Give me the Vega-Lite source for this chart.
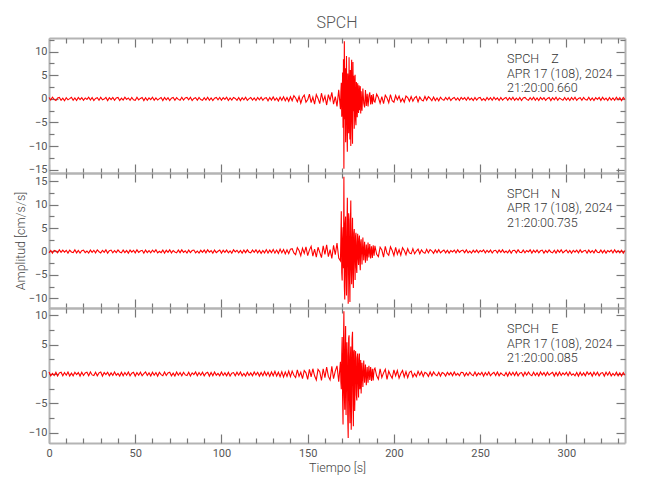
{
"$schema": "https://vega.github.io/schema/vega-lite/v6.json",
"padding": {"left": 14, "top": 15, "right": 10, "bottom": 10},
"spacing": 0,
"bounds": "flush",
"datasets": {
"Z": [{"t":0,"a":0.3},{"t":1,"a":-0.25},{"t":2,"a":0.35},{"t":3,"a":-0.1},{"t":4,"a":-0.35},{"t":5,"a":0.2},{"t":6,"a":0.3},{"t":7,"a":-0.3},{"t":8,"a":0.15},{"t":9,"a":-0.4},
{"t":10,"a":0.25},{"t":11,"a":-0.2},{"t":12,"a":0.05},{"t":13,"a":0.35},{"t":14,"a":-0.3},{"t":15,"a":0.2},{"t":16,"a":-0.35},{"t":17,"a":0.3},{"t":18,"a":-0.15},{"t":19,"a":0.25},
{"t":20,"a":-0.3},{"t":21,"a":0.2},{"t":22,"a":-0.1},{"t":23,"a":0.35},{"t":24,"a":-0.25},{"t":25,"a":0.3},{"t":26,"a":-0.35},{"t":27,"a":0.1},{"t":28,"a":0.25},{"t":29,"a":-0.3},
{"t":30,"a":0.35},{"t":31,"a":-0.2},{"t":32,"a":-0.05},{"t":33,"a":0.3},{"t":34,"a":-0.35},{"t":35,"a":0.25},{"t":36,"a":-0.15},{"t":37,"a":0.3},{"t":38,"a":-0.3},{"t":39,"a":0.2},
{"t":40,"a":0.3},{"t":41,"a":-0.35},{"t":42,"a":0.15},{"t":43,"a":-0.25},{"t":44,"a":0.35},{"t":45,"a":-0.1},{"t":46,"a":0.2},{"t":47,"a":-0.3},{"t":48,"a":0.3},{"t":49,"a":-0.2},
{"t":50,"a":-0.3},{"t":51,"a":0.35},{"t":52,"a":-0.2},{"t":53,"a":0.1},{"t":54,"a":0.3},{"t":55,"a":-0.35},{"t":56,"a":0.25},{"t":57,"a":-0.3},{"t":58,"a":0.2},{"t":59,"a":-0.15},
{"t":60,"a":0.35},{"t":61,"a":-0.3},{"t":62,"a":0.2},{"t":63,"a":-0.25},{"t":64,"a":0.05},{"t":65,"a":0.3},{"t":66,"a":-0.35},{"t":67,"a":0.3},{"t":68,"a":-0.2},{"t":69,"a":0.25},
{"t":70,"a":-0.35},{"t":71,"a":0.15},{"t":72,"a":0.3},{"t":73,"a":-0.3},{"t":74,"a":0.25},{"t":75,"a":-0.1},{"t":76,"a":-0.3},{"t":77,"a":0.35},{"t":78,"a":-0.25},{"t":79,"a":0.2},
{"t":80,"a":0.3},{"t":81,"a":-0.2},{"t":82,"a":0.35},{"t":83,"a":-0.35},{"t":84,"a":0.1},{"t":85,"a":0.25},{"t":86,"a":-0.3},{"t":87,"a":0.3},{"t":88,"a":-0.15},{"t":89,"a":-0.3},
{"t":90,"a":0.25},{"t":91,"a":-0.25},{"t":92,"a":0.35},{"t":93,"a":-0.3},{"t":94,"a":0.2},{"t":95,"a":-0.35},{"t":96,"a":0.15},{"t":97,"a":0.3},{"t":98,"a":-0.2},{"t":99,"a":0.3},
{"t":100,"a":-0.3},{"t":101,"a":0.25},{"t":102,"a":-0.1},{"t":103,"a":0.35},{"t":104,"a":-0.35},{"t":105,"a":0.2},{"t":106,"a":-0.25},{"t":107,"a":0.3},{"t":108,"a":0.1},{"t":109,"a":-0.3},
{"t":110,"a":0.3},{"t":111,"a":-0.35},{"t":112,"a":0.25},{"t":113,"a":-0.2},{"t":114,"a":0.35},{"t":115,"a":-0.3},{"t":116,"a":0.05},{"t":117,"a":0.3},{"t":118,"a":-0.25},{"t":119,"a":0.2},
{"t":120,"a":-0.35},{"t":121,"a":0.3},{"t":122,"a":-0.2},{"t":123,"a":0.35},{"t":124,"a":-0.3},{"t":125,"a":0.15},{"t":126,"a":0.25},{"t":127,"a":-0.4},{"t":128,"a":0.3},{"t":129,"a":-0.25},
{"t":130,"a":0.4},{"t":131,"a":-0.3},{"t":132,"a":0.2},{"t":133,"a":-0.45},{"t":134,"a":0.35},{"t":135,"a":-0.3},{"t":136,"a":0.45},{"t":137,"a":-0.4},{"t":138,"a":0.3},{"t":139,"a":-0.5},
{"t":140,"a":0.45},
{"t":141,"a":-0.4},{"t":142,"a":0.7},{"t":143,"a":0.2},{"t":144,"a":-0.6},{"t":145,"a":0.5},{"t":146,"a":-0.9},{"t":147,"a":0.3},{"t":148,"a":0.8},{"t":149,"a":-0.7},{"t":150,"a":-0.2},{"t":151,"a":1.0},{"t":152,"a":-0.8},{"t":153,"a":0.4},{"t":154,"a":-1.1},{"t":155,"a":0.9},{"t":156,"a":0.1},{"t":157,"a":-1.0},{"t":158,"a":1.2},{"t":159,"a":-0.5},{"t":160,"a":0.6},{"t":161,"a":-1.3},{"t":162,"a":0.9},{"t":163,"a":-0.3},{"t":164,"a":1.4},{"t":165,"a":-1.1},{"t":166,"a":0.5},{"t":167,"a":-1.6},{"t":168,"a":1.9},
{"t":169,"a":-2.2},{"t":169.25,"a":1.5},{"t":169.5,"a":3.4},{"t":169.75,"a":-3.8},{"t":170,"a":-1.2},{"t":170.25,"a":5.6},{"t":170.5,"a":-6.1},{"t":170.75,"a":8.4},{"t":171,"a":-14.8},{"t":171.25,"a":12.2},{"t":171.5,"a":-4.3},{"t":171.75,"a":6.5},{"t":172,"a":-9.2},{"t":172.25,"a":3.1},{"t":172.5,"a":9.1},{"t":172.75,"a":-6.8},{"t":173,"a":-11.2},{"t":173.25,"a":5.4},{"t":173.5,"a":2.0},{"t":173.75,"a":-7.3},{"t":174,"a":8.8},{"t":174.25,"a":-3.5},{"t":174.5,"a":-8.6},{"t":174.75,"a":6.1},{"t":175,"a":-10.0},{"t":175.25,"a":4.2},{"t":175.5,"a":8.3},{"t":175.75,"a":-5.2},{"t":176,"a":-9.5},{"t":176.25,"a":7.8},{"t":176.5,"a":-2.6},{"t":176.75,"a":4.9},{"t":177,"a":-6.3},{"t":177.25,"a":2.2},{"t":177.5,"a":5.1},{"t":177.75,"a":-4.4},{"t":178,"a":-5.6},{"t":178.25,"a":3.6},{"t":178.5,"a":1.1},{"t":178.75,"a":-3.9},{"t":179,"a":3.3},{"t":179.25,"a":-1.5},{"t":179.5,"a":-3.0},{"t":179.75,"a":2.9},{"t":180,"a":-2.4},{"t":180.25,"a":1.4},{"t":180.5,"a":2.7},{"t":180.75,"a":-3.1},
{"t":181,"a":1.6},{"t":181.5,"a":-2.5},{"t":182,"a":2.2},{"t":182.5,"a":-0.9},{"t":183,"a":-1.8},{"t":183.5,"a":1.9},{"t":184,"a":-1.5},{"t":184.5,"a":1.1},{"t":185,"a":-1.6},{"t":185.5,"a":0.6},{"t":186,"a":1.4},{"t":186.5,"a":-1.2},{"t":187,"a":0.8},{"t":187.5,"a":-1.1},{"t":188,"a":1.0},{"t":188.5,"a":-0.5},
{"t":189,"a":-0.7},{"t":190,"a":1.0},{"t":191,"a":0.3},{"t":192,"a":-0.9},{"t":193,"a":0.5},{"t":194,"a":-1.0},{"t":195,"a":0.8},{"t":196,"a":0.2},{"t":197,"a":-0.8},{"t":198,"a":0.9},{"t":199,"a":-0.4},{"t":200,"a":-0.7},{"t":201,"a":0.7},{"t":202,"a":-0.2},{"t":203,"a":0.6},{"t":204,"a":-0.6},{"t":205,"a":0.1},{"t":206,"a":-0.7},{"t":207,"a":0.6},{"t":208,"a":0.3},{"t":209,"a":-0.5},{"t":210,"a":0.5},{"t":211,"a":-0.5},{"t":212,"a":0.2},{"t":213,"a":0.5},{"t":214,"a":-0.6},{"t":215,"a":0.4},{"t":216,"a":-0.2},{"t":217,"a":-0.45},{"t":218,"a":0.5},{"t":219,"a":-0.3},{"t":220,"a":0.45},{"t":221,"a":0.1},{"t":222,"a":-0.4},{"t":223,"a":0.4},{"t":224,"a":-0.35},{"t":225,"a":0.2},{"t":226,"a":-0.4},{"t":227,"a":0.35},{"t":228,"a":-0.1},{"t":229,"a":-0.3},
{"t":230,"a":0.3},{"t":231,"a":-0.2},{"t":232,"a":0.35},{"t":233,"a":-0.35},{"t":234,"a":0.1},{"t":235,"a":0.3},{"t":236,"a":-0.25},{"t":237,"a":0.2},{"t":238,"a":-0.35},{"t":239,"a":0.3},
{"t":240,"a":-0.1},{"t":241,"a":0.25},{"t":242,"a":-0.3},{"t":243,"a":0.35},{"t":244,"a":-0.2},{"t":245,"a":0.15},{"t":246,"a":-0.35},{"t":247,"a":0.3},{"t":248,"a":-0.25},{"t":249,"a":0.2},
{"t":250,"a":0.3},{"t":251,"a":-0.3},{"t":252,"a":0.05},{"t":253,"a":-0.35},{"t":254,"a":0.3},{"t":255,"a":-0.2},{"t":256,"a":0.25},{"t":257,"a":-0.3},{"t":258,"a":0.35},{"t":259,"a":-0.15},
{"t":260,"a":0.2},{"t":261,"a":-0.35},{"t":262,"a":0.3},{"t":263,"a":-0.25},{"t":264,"a":0.1},{"t":265,"a":0.3},{"t":266,"a":-0.3},{"t":267,"a":0.25},{"t":268,"a":-0.2},{"t":269,"a":0.35},
{"t":270,"a":-0.3},{"t":271,"a":0.15},{"t":272,"a":-0.25},{"t":273,"a":0.3},{"t":274,"a":-0.35},{"t":275,"a":0.2},{"t":276,"a":0.3},{"t":277,"a":-0.1},{"t":278,"a":-0.3},{"t":279,"a":0.25},
{"t":280,"a":-0.2},{"t":281,"a":0.35},{"t":282,"a":-0.3},{"t":283,"a":0.2},{"t":284,"a":-0.35},{"t":285,"a":0.3},{"t":286,"a":-0.15},{"t":287,"a":0.25},{"t":288,"a":-0.3},{"t":289,"a":0.1},
{"t":290,"a":0.3},{"t":291,"a":-0.35},{"t":292,"a":0.25},{"t":293,"a":-0.2},{"t":294,"a":0.35},{"t":295,"a":-0.3},{"t":296,"a":0.2},{"t":297,"a":-0.05},{"t":298,"a":-0.3},{"t":299,"a":0.3},
{"t":300,"a":-0.25},{"t":301,"a":0.2},{"t":302,"a":-0.35},{"t":303,"a":0.3},{"t":304,"a":-0.2},{"t":305,"a":0.35},{"t":306,"a":-0.3},{"t":307,"a":0.1},{"t":308,"a":0.25},{"t":309,"a":-0.3},
{"t":310,"a":0.3},{"t":311,"a":-0.15},{"t":312,"a":-0.25},{"t":313,"a":0.35},{"t":314,"a":-0.3},{"t":315,"a":0.2},{"t":316,"a":-0.35},{"t":317,"a":0.25},{"t":318,"a":-0.1},{"t":319,"a":0.3},
{"t":320,"a":-0.3},{"t":321,"a":0.35},{"t":322,"a":-0.2},{"t":323,"a":0.15},{"t":324,"a":-0.35},{"t":325,"a":0.3},{"t":326,"a":-0.25},{"t":327,"a":0.2},{"t":328,"a":-0.3},{"t":329,"a":0.35},
{"t":330,"a":-0.2},{"t":331,"a":0.25},{"t":332,"a":-0.35},{"t":333,"a":0.3},{"t":334,"a":-0.15}],
"N": [{"t":0,"a":-0.3},{"t":1,"a":0.2},{"t":2,"a":-0.35},{"t":3,"a":0.25},{"t":4,"a":0.1},{"t":5,"a":-0.3},{"t":6,"a":0.35},{"t":7,"a":-0.2},{"t":8,"a":0.3},{"t":9,"a":-0.15},
{"t":10,"a":0.25},{"t":11,"a":-0.35},{"t":12,"a":0.3},{"t":13,"a":-0.1},{"t":14,"a":-0.25},{"t":15,"a":0.35},{"t":16,"a":-0.3},{"t":17,"a":0.2},{"t":18,"a":-0.35},{"t":19,"a":0.15},
{"t":20,"a":0.3},{"t":21,"a":-0.25},{"t":22,"a":0.1},{"t":23,"a":-0.35},{"t":24,"a":0.3},{"t":25,"a":-0.2},{"t":26,"a":0.25},{"t":27,"a":-0.3},{"t":28,"a":0.35},{"t":29,"a":-0.05},
{"t":30,"a":-0.3},{"t":31,"a":0.25},{"t":32,"a":-0.2},{"t":33,"a":0.35},{"t":34,"a":-0.35},{"t":35,"a":0.15},{"t":36,"a":0.3},{"t":37,"a":-0.3},{"t":38,"a":0.2},{"t":39,"a":-0.25},
{"t":40,"a":0.35},{"t":41,"a":-0.1},{"t":42,"a":-0.3},{"t":43,"a":0.3},{"t":44,"a":-0.25},{"t":45,"a":0.2},{"t":46,"a":-0.35},{"t":47,"a":0.3},{"t":48,"a":-0.15},{"t":49,"a":0.25},
{"t":50,"a":-0.3},{"t":51,"a":0.35},{"t":52,"a":-0.2},{"t":53,"a":0.1},{"t":54,"a":0.25},{"t":55,"a":-0.35},{"t":56,"a":0.3},{"t":57,"a":-0.25},{"t":58,"a":0.2},{"t":59,"a":-0.3},
{"t":60,"a":0.3},{"t":61,"a":-0.15},{"t":62,"a":0.35},{"t":63,"a":-0.3},{"t":64,"a":0.05},{"t":65,"a":-0.25},{"t":66,"a":0.3},{"t":67,"a":-0.35},{"t":68,"a":0.25},{"t":69,"a":-0.2},
{"t":70,"a":0.35},{"t":71,"a":-0.3},{"t":72,"a":0.2},{"t":73,"a":-0.1},{"t":74,"a":-0.3},{"t":75,"a":0.3},{"t":76,"a":-0.25},{"t":77,"a":0.35},{"t":78,"a":-0.2},{"t":79,"a":0.15},
{"t":80,"a":-0.35},{"t":81,"a":0.3},{"t":82,"a":-0.25},{"t":83,"a":0.2},{"t":84,"a":0.3},{"t":85,"a":-0.3},{"t":86,"a":0.1},{"t":87,"a":-0.35},{"t":88,"a":0.25},{"t":89,"a":-0.2},
{"t":90,"a":0.3},{"t":91,"a":-0.3},{"t":92,"a":0.35},{"t":93,"a":-0.15},{"t":94,"a":0.2},{"t":95,"a":-0.35},{"t":96,"a":0.3},{"t":97,"a":-0.25},{"t":98,"a":0.05},{"t":99,"a":0.3},
{"t":100,"a":-0.35},{"t":101,"a":0.25},{"t":102,"a":-0.2},{"t":103,"a":0.3},{"t":104,"a":-0.3},{"t":105,"a":0.15},{"t":106,"a":-0.35},{"t":107,"a":0.35},{"t":108,"a":-0.1},{"t":109,"a":0.25},
{"t":110,"a":-0.3},{"t":111,"a":0.2},{"t":112,"a":-0.35},{"t":113,"a":0.3},{"t":114,"a":-0.25},{"t":115,"a":0.35},{"t":116,"a":-0.15},{"t":117,"a":-0.3},{"t":118,"a":0.3},{"t":119,"a":-0.2},
{"t":120,"a":0.35},{"t":121,"a":-0.3},{"t":122,"a":0.25},{"t":123,"a":-0.4},{"t":124,"a":0.2},{"t":125,"a":-0.3},{"t":126,"a":0.4},{"t":127,"a":-0.35},{"t":128,"a":0.3},{"t":129,"a":-0.25},
{"t":130,"a":0.45},{"t":131,"a":-0.35},{"t":132,"a":0.3},{"t":133,"a":-0.4},{"t":134,"a":0.5},{"t":135,"a":-0.3},{"t":136,"a":0.4},{"t":137,"a":-0.5},{"t":138,"a":0.35},{"t":139,"a":-0.45},
{"t":140,"a":0.5},
{"t":141,"a":0.6},{"t":142,"a":-0.3},{"t":143,"a":-0.7},{"t":144,"a":0.8},{"t":145,"a":0.2},{"t":146,"a":-0.9},{"t":147,"a":0.7},{"t":148,"a":-0.4},{"t":149,"a":1.0},{"t":150,"a":-0.9},{"t":151,"a":0.3},{"t":152,"a":1.1},{"t":153,"a":-1.0},{"t":154,"a":0.5},{"t":155,"a":-1.2},{"t":156,"a":0.9},{"t":157,"a":-0.2},{"t":158,"a":-1.3},{"t":159,"a":1.2},{"t":160,"a":-0.6},{"t":161,"a":1.4},{"t":162,"a":-1.1},{"t":163,"a":0.4},{"t":164,"a":-1.5},{"t":165,"a":1.3},{"t":166,"a":-0.7},{"t":167,"a":1.8},{"t":168,"a":-1.4},
{"t":169,"a":-2.0},{"t":169.25,"a":3.1},{"t":169.5,"a":8.6},{"t":169.75,"a":-4.5},{"t":170,"a":-6.2},{"t":170.25,"a":2.8},{"t":170.5,"a":5.2},{"t":170.75,"a":-3.6},{"t":171,"a":16.0},{"t":171.25,"a":-7.4},{"t":171.5,"a":-10.3},{"t":171.75,"a":6.0},{"t":172,"a":7.5},{"t":172.25,"a":-5.1},{"t":172.5,"a":-9.4},{"t":172.75,"a":4.3},{"t":173,"a":11.5},{"t":173.25,"a":-2.8},{"t":173.5,"a":-11.2},{"t":173.75,"a":8.2},{"t":174,"a":6.8},{"t":174.25,"a":-6.0},{"t":174.5,"a":-10.8},{"t":174.75,"a":5.5},{"t":175,"a":10.9},{"t":175.25,"a":-3.9},{"t":175.5,"a":-7.0},{"t":175.75,"a":2.5},{"t":176,"a":7.2},{"t":176.25,"a":-4.8},{"t":176.5,"a":-7.8},{"t":176.75,"a":3.9},{"t":177,"a":4.8},{"t":177.25,"a":-2.1},{"t":177.5,"a":-6.1},{"t":177.75,"a":3.3},{"t":178,"a":4.0},{"t":178.25,"a":-3.4},{"t":178.5,"a":-4.6},{"t":178.75,"a":1.8},{"t":179,"a":3.8},{"t":179.25,"a":-1.6},{"t":179.5,"a":-2.9},{"t":179.75,"a":2.7},{"t":180,"a":3.4},{"t":180.25,"a":-2.3},{"t":180.5,"a":-4.0},{"t":180.75,"a":1.9},
{"t":181,"a":2.6},{"t":181.5,"a":-2.8},{"t":182,"a":3.0},{"t":182.5,"a":-1.9},{"t":183,"a":2.1},{"t":183.5,"a":-2.4},{"t":184,"a":1.5},{"t":184.5,"a":-2.0},{"t":185,"a":1.9},{"t":185.5,"a":-1.3},{"t":186,"a":1.6},{"t":186.5,"a":-1.5},{"t":187,"a":1.1},{"t":187.5,"a":-1.4},{"t":188,"a":1.3},{"t":188.5,"a":-0.9},
{"t":189,"a":1.2},{"t":190,"a":-0.6},{"t":191,"a":-1.1},{"t":192,"a":0.9},{"t":193,"a":0.3},{"t":194,"a":-1.2},{"t":195,"a":1.1},{"t":196,"a":-0.4},{"t":197,"a":-0.8},{"t":198,"a":1.0},{"t":199,"a":0.2},{"t":200,"a":-0.9},{"t":201,"a":0.9},{"t":202,"a":-0.6},{"t":203,"a":0.4},{"t":204,"a":-0.8},{"t":205,"a":0.8},{"t":206,"a":0.2},{"t":207,"a":-0.7},{"t":208,"a":0.6},{"t":209,"a":-0.3},{"t":210,"a":-0.5},{"t":211,"a":0.6},{"t":212,"a":-0.5},{"t":213,"a":0.1},{"t":214,"a":0.5},{"t":215,"a":-0.5},{"t":216,"a":0.35},{"t":217,"a":-0.2},{"t":218,"a":-0.4},{"t":219,"a":0.45},{"t":220,"a":-0.3},{"t":221,"a":0.4},{"t":222,"a":0.1},{"t":223,"a":-0.4},{"t":224,"a":0.35},{"t":225,"a":-0.25},{"t":226,"a":0.4},{"t":227,"a":-0.3},{"t":228,"a":0.05},{"t":229,"a":0.3},
{"t":230,"a":-0.3},{"t":231,"a":0.25},{"t":232,"a":-0.35},{"t":233,"a":0.2},{"t":234,"a":-0.1},{"t":235,"a":0.3},{"t":236,"a":-0.3},{"t":237,"a":0.35},{"t":238,"a":-0.2},{"t":239,"a":0.15},
{"t":240,"a":0.3},{"t":241,"a":-0.25},{"t":242,"a":0.35},{"t":243,"a":-0.3},{"t":244,"a":0.1},{"t":245,"a":-0.35},{"t":246,"a":0.25},{"t":247,"a":-0.2},{"t":248,"a":0.3},{"t":249,"a":-0.3},
{"t":250,"a":0.2},{"t":251,"a":-0.05},{"t":252,"a":0.35},{"t":253,"a":-0.3},{"t":254,"a":0.25},{"t":255,"a":-0.2},{"t":256,"a":0.3},{"t":257,"a":-0.35},{"t":258,"a":0.15},{"t":259,"a":0.25},
{"t":260,"a":-0.3},{"t":261,"a":0.3},{"t":262,"a":-0.2},{"t":263,"a":0.35},{"t":264,"a":-0.25},{"t":265,"a":0.1},{"t":266,"a":-0.3},{"t":267,"a":0.3},{"t":268,"a":-0.35},{"t":269,"a":0.2},
{"t":270,"a":0.25},{"t":271,"a":-0.3},{"t":272,"a":0.35},{"t":273,"a":-0.15},{"t":274,"a":-0.25},{"t":275,"a":0.3},{"t":276,"a":-0.3},{"t":277,"a":0.2},{"t":278,"a":-0.1},{"t":279,"a":0.35},
{"t":280,"a":-0.35},{"t":281,"a":0.25},{"t":282,"a":-0.2},{"t":283,"a":0.3},{"t":284,"a":-0.3},{"t":285,"a":0.15},{"t":286,"a":0.3},{"t":287,"a":-0.35},{"t":288,"a":0.2},{"t":289,"a":-0.25},
{"t":290,"a":0.35},{"t":291,"a":-0.1},{"t":292,"a":-0.3},{"t":293,"a":0.25},{"t":294,"a":-0.35},{"t":295,"a":0.3},{"t":296,"a":-0.2},{"t":297,"a":0.35},{"t":298,"a":-0.3},{"t":299,"a":0.05},
{"t":300,"a":0.3},{"t":301,"a":-0.3},{"t":302,"a":0.2},{"t":303,"a":-0.35},{"t":304,"a":0.25},{"t":305,"a":-0.15},{"t":306,"a":0.3},{"t":307,"a":-0.3},{"t":308,"a":0.35},{"t":309,"a":-0.2},
{"t":310,"a":0.1},{"t":311,"a":0.25},{"t":312,"a":-0.35},{"t":313,"a":0.3},{"t":314,"a":-0.25},{"t":315,"a":0.2},{"t":316,"a":-0.3},{"t":317,"a":0.35},{"t":318,"a":-0.15},{"t":319,"a":-0.25},
{"t":320,"a":0.3},{"t":321,"a":-0.3},{"t":322,"a":0.25},{"t":323,"a":-0.35},{"t":324,"a":0.2},{"t":325,"a":-0.1},{"t":326,"a":0.3},{"t":327,"a":-0.3},{"t":328,"a":0.35},{"t":329,"a":-0.25},
{"t":330,"a":0.2},{"t":331,"a":-0.3},{"t":332,"a":0.25},{"t":333,"a":-0.35},{"t":334,"a":0.2}],
"E": [{"t":0,"a":0.35},{"t":1,"a":-0.3},{"t":2,"a":0.1},{"t":3,"a":-0.25},{"t":4,"a":0.3},{"t":5,"a":-0.35},{"t":6,"a":0.2},{"t":7,"a":0.3},{"t":8,"a":-0.3},{"t":9,"a":0.25},
{"t":10,"a":-0.2},{"t":11,"a":0.35},{"t":12,"a":-0.35},{"t":13,"a":0.15},{"t":14,"a":-0.3},{"t":15,"a":0.3},{"t":16,"a":-0.1},{"t":17,"a":0.25},{"t":18,"a":-0.35},{"t":19,"a":0.3},
{"t":20,"a":-0.25},{"t":21,"a":0.2},{"t":22,"a":0.3},{"t":23,"a":-0.3},{"t":24,"a":0.35},{"t":25,"a":-0.15},{"t":26,"a":-0.25},{"t":27,"a":0.3},{"t":28,"a":-0.3},{"t":29,"a":0.2},
{"t":30,"a":0.35},{"t":31,"a":-0.35},{"t":32,"a":0.25},{"t":33,"a":-0.1},{"t":34,"a":0.3},{"t":35,"a":-0.3},{"t":36,"a":0.2},{"t":37,"a":-0.25},{"t":38,"a":0.35},{"t":39,"a":-0.2},
{"t":40,"a":0.1},{"t":41,"a":-0.35},{"t":42,"a":0.3},{"t":43,"a":-0.3},{"t":44,"a":0.25},{"t":45,"a":-0.2},{"t":46,"a":0.35},{"t":47,"a":-0.3},{"t":48,"a":0.15},{"t":49,"a":0.3},
{"t":50,"a":-0.35},{"t":51,"a":0.25},{"t":52,"a":-0.2},{"t":53,"a":0.3},{"t":54,"a":-0.3},{"t":55,"a":0.05},{"t":56,"a":0.35},{"t":57,"a":-0.25},{"t":58,"a":0.2},{"t":59,"a":-0.35},
{"t":60,"a":0.3},{"t":61,"a":-0.2},{"t":62,"a":0.25},{"t":63,"a":-0.35},{"t":64,"a":0.3},{"t":65,"a":-0.1},{"t":66,"a":-0.3},{"t":67,"a":0.35},{"t":68,"a":-0.25},{"t":69,"a":0.2},
{"t":70,"a":0.3},{"t":71,"a":-0.3},{"t":72,"a":0.15},{"t":73,"a":-0.35},{"t":74,"a":0.35},{"t":75,"a":-0.2},{"t":76,"a":0.25},{"t":77,"a":-0.3},{"t":78,"a":0.3},{"t":79,"a":-0.15},
{"t":80,"a":-0.25},{"t":81,"a":0.3},{"t":82,"a":-0.35},{"t":83,"a":0.2},{"t":84,"a":-0.1},{"t":85,"a":0.35},{"t":86,"a":-0.3},{"t":87,"a":0.25},{"t":88,"a":-0.2},{"t":89,"a":0.3},
{"t":90,"a":-0.3},{"t":91,"a":0.15},{"t":92,"a":0.3},{"t":93,"a":-0.35},{"t":94,"a":0.25},{"t":95,"a":-0.3},{"t":96,"a":0.35},{"t":97,"a":-0.2},{"t":98,"a":0.1},{"t":99,"a":-0.3},
{"t":100,"a":0.35},{"t":101,"a":-0.25},{"t":102,"a":0.2},{"t":103,"a":-0.3},{"t":104,"a":0.3},{"t":105,"a":-0.35},{"t":106,"a":0.15},{"t":107,"a":0.25},{"t":108,"a":-0.3},{"t":109,"a":0.3},
{"t":110,"a":-0.2},{"t":111,"a":0.35},{"t":112,"a":-0.3},{"t":113,"a":0.1},{"t":114,"a":-0.35},{"t":115,"a":0.3},{"t":116,"a":-0.25},{"t":117,"a":0.2},{"t":118,"a":-0.3},{"t":119,"a":0.35},
{"t":120,"a":-0.15},{"t":121,"a":0.3},{"t":122,"a":-0.35},{"t":123,"a":0.25},{"t":124,"a":-0.3},{"t":125,"a":0.4},{"t":126,"a":-0.25},{"t":127,"a":0.3},{"t":128,"a":-0.4},{"t":129,"a":0.35},
{"t":130,"a":-0.3},{"t":131,"a":0.45},{"t":132,"a":-0.35},{"t":133,"a":0.3},{"t":134,"a":-0.45},{"t":135,"a":0.4},{"t":136,"a":-0.5},{"t":137,"a":0.35},{"t":138,"a":-0.4},{"t":139,"a":0.5},
{"t":140,"a":-0.45},
{"t":141,"a":0.5},{"t":142,"a":-0.2},{"t":143,"a":-0.6},{"t":144,"a":0.7},{"t":145,"a":-0.4},{"t":146,"a":0.3},{"t":147,"a":-0.8},{"t":148,"a":0.6},{"t":149,"a":0.2},{"t":150,"a":-0.9},{"t":151,"a":0.8},{"t":152,"a":-0.5},{"t":153,"a":0.9},{"t":154,"a":-0.3},{"t":155,"a":-1.0},{"t":156,"a":0.8},{"t":157,"a":0.4},{"t":158,"a":-1.1},{"t":159,"a":0.9},{"t":160,"a":-0.6},{"t":161,"a":1.2},{"t":162,"a":-0.4},{"t":163,"a":-1.0},{"t":164,"a":1.3},{"t":165,"a":-0.8},{"t":166,"a":0.5},{"t":167,"a":1.4},{"t":168,"a":-1.3},
{"t":169,"a":2.1},{"t":169.25,"a":-1.4},{"t":169.5,"a":-2.6},{"t":169.75,"a":3.2},{"t":170,"a":6.3},{"t":170.25,"a":-4.1},{"t":170.5,"a":-8.6},{"t":170.75,"a":5.2},{"t":171,"a":10.7},{"t":171.25,"a":-3.3},{"t":171.5,"a":-6.1},{"t":171.75,"a":4.0},{"t":172,"a":8.2},{"t":172.25,"a":-7.0},{"t":172.5,"a":-2.4},{"t":172.75,"a":5.4},{"t":173,"a":3.1},{"t":173.25,"a":-7.8},{"t":173.5,"a":-10.9},{"t":173.75,"a":6.1},{"t":174,"a":6.6},{"t":174.25,"a":-4.6},{"t":174.5,"a":-8.4},{"t":174.75,"a":2.9},{"t":175,"a":4.7},{"t":175.25,"a":-9.5},{"t":175.5,"a":-5.3},{"t":175.75,"a":6.0},{"t":176,"a":7.2},{"t":176.25,"a":-3.0},{"t":176.5,"a":-8.9},{"t":176.75,"a":3.8},{"t":177,"a":4.1},{"t":177.25,"a":-6.3},{"t":177.5,"a":-2.2},{"t":177.75,"a":3.9},{"t":178,"a":2.6},{"t":178.25,"a":-3.6},{"t":178.5,"a":-4.5},{"t":178.75,"a":2.8},{"t":179,"a":3.5},{"t":179.25,"a":-1.7},{"t":179.5,"a":-4.0},{"t":179.75,"a":2.5},{"t":180,"a":3.5},{"t":180.25,"a":-2.6},{"t":180.5,"a":-1.2},{"t":180.75,"a":2.4},
{"t":181,"a":-3.3},{"t":181.5,"a":1.9},{"t":182,"a":-2.2},{"t":182.5,"a":2.3},{"t":183,"a":-1.5},{"t":183.5,"a":1.6},{"t":184,"a":-1.9},{"t":184.5,"a":1.2},{"t":185,"a":-1.5},{"t":185.5,"a":1.4},{"t":186,"a":-1.0},{"t":186.5,"a":1.2},{"t":187,"a":-1.2},{"t":187.5,"a":0.9},{"t":188,"a":-1.1},{"t":188.5,"a":0.8},
{"t":189,"a":1.0},{"t":190,"a":-0.3},{"t":191,"a":-0.9},{"t":192,"a":0.9},{"t":193,"a":-0.6},{"t":194,"a":0.2},{"t":195,"a":0.8},{"t":196,"a":-0.9},{"t":197,"a":0.5},{"t":198,"a":-0.2},{"t":199,"a":-0.7},{"t":200,"a":0.7},{"t":201,"a":-0.3},{"t":202,"a":0.6},{"t":203,"a":-0.7},{"t":204,"a":0.1},{"t":205,"a":0.6},{"t":206,"a":-0.5},{"t":207,"a":0.4},{"t":208,"a":-0.6},{"t":209,"a":0.3},{"t":210,"a":0.5},{"t":211,"a":-0.5},{"t":212,"a":0.1},{"t":213,"a":-0.45},{"t":214,"a":0.45},{"t":215,"a":-0.2},{"t":216,"a":0.4},{"t":217,"a":-0.4},{"t":218,"a":0.3},{"t":219,"a":0.1},{"t":220,"a":-0.4},{"t":221,"a":0.35},{"t":222,"a":-0.3},{"t":223,"a":0.35},{"t":224,"a":-0.1},{"t":225,"a":-0.3},{"t":226,"a":0.3},{"t":227,"a":-0.35},{"t":228,"a":0.25},{"t":229,"a":0.1},
{"t":230,"a":-0.35},{"t":231,"a":0.3},{"t":232,"a":-0.15},{"t":233,"a":0.25},{"t":234,"a":-0.3},{"t":235,"a":0.35},{"t":236,"a":-0.2},{"t":237,"a":0.1},{"t":238,"a":-0.3},{"t":239,"a":0.3},
{"t":240,"a":0.25},{"t":241,"a":-0.35},{"t":242,"a":0.2},{"t":243,"a":-0.25},{"t":244,"a":0.3},{"t":245,"a":-0.1},{"t":246,"a":-0.3},{"t":247,"a":0.35},{"t":248,"a":-0.3},{"t":249,"a":0.2},
{"t":250,"a":-0.15},{"t":251,"a":0.3},{"t":252,"a":-0.35},{"t":253,"a":0.25},{"t":254,"a":-0.2},{"t":255,"a":0.35},{"t":256,"a":-0.3},{"t":257,"a":0.05},{"t":258,"a":0.3},{"t":259,"a":-0.25},
{"t":260,"a":0.35},{"t":261,"a":-0.3},{"t":262,"a":0.2},{"t":263,"a":-0.1},{"t":264,"a":-0.3},{"t":265,"a":0.25},{"t":266,"a":-0.35},{"t":267,"a":0.3},{"t":268,"a":-0.2},{"t":269,"a":0.3},
{"t":270,"a":-0.25},{"t":271,"a":0.35},{"t":272,"a":-0.3},{"t":273,"a":0.15},{"t":274,"a":0.25},{"t":275,"a":-0.35},{"t":276,"a":0.3},{"t":277,"a":-0.2},{"t":278,"a":0.35},{"t":279,"a":-0.1},
{"t":280,"a":-0.3},{"t":281,"a":0.3},{"t":282,"a":-0.25},{"t":283,"a":0.2},{"t":284,"a":-0.35},{"t":285,"a":0.35},{"t":286,"a":-0.15},{"t":287,"a":0.25},{"t":288,"a":-0.3},{"t":289,"a":0.3},
{"t":290,"a":-0.2},{"t":291,"a":0.1},{"t":292,"a":0.3},{"t":293,"a":-0.35},{"t":294,"a":0.25},{"t":295,"a":-0.3},{"t":296,"a":0.35},{"t":297,"a":-0.25},{"t":298,"a":0.2},{"t":299,"a":-0.15},
{"t":300,"a":0.3},{"t":301,"a":-0.3},{"t":302,"a":0.35},{"t":303,"a":-0.2},{"t":304,"a":0.05},{"t":305,"a":-0.3},{"t":306,"a":0.25},{"t":307,"a":-0.35},{"t":308,"a":0.3},{"t":309,"a":-0.25},
{"t":310,"a":0.2},{"t":311,"a":-0.3},{"t":312,"a":0.35},{"t":313,"a":-0.1},{"t":314,"a":0.25},{"t":315,"a":-0.35},{"t":316,"a":0.3},{"t":317,"a":-0.2},{"t":318,"a":0.3},{"t":319,"a":-0.3},
{"t":320,"a":0.15},{"t":321,"a":0.25},{"t":322,"a":-0.35},{"t":323,"a":0.3},{"t":324,"a":-0.2},{"t":325,"a":0.35},{"t":326,"a":-0.3},{"t":327,"a":0.1},{"t":328,"a":-0.25},{"t":329,"a":0.3},
{"t":330,"a":-0.3},{"t":331,"a":0.2},{"t":332,"a":-0.35},{"t":333,"a":0.25},{"t":334,"a":-0.2}]
},
"vconcat": [
{
"width": 576, "height": 135,
"data": {"name": "Z"},
"title": {"text": "SPCH", "fontSize": 16, "font": "Roboto", "fontWeight": 300, "color": "#555555", "frame": "group", "anchor": "middle", "offset": 6},
"layer": [
{"mark": {"type": "line", "color": "#ff0000", "strokeWidth": 1.1},
 "encoding": {
  "x": {"field": "t", "type": "quantitative", "scale": {"domain": [0, 334], "nice": false, "zero": false}, "axis": {"orient": "bottom", "values": [0,50,100,150,200,250,300], "ticks": false, "labels": false, "title": null}},
  "y": {"field": "a", "type": "quantitative", "scale": {"domain": [-15.7, 12.9], "nice": false, "zero": false}, "axis": {"orient": "left", "values": [-15,-10,-5,0,5,10], "ticks": false, "labelPadding": 2, "title": null}}}},
{"data": {"values": [{"t": 0, "a": 0}]}, "mark": {"type": "point", "opacity": 0},
 "encoding": {
  "x": {"field": "t", "type": "quantitative", "axis": {"orient": "bottom", "values": [0,50,100,150,200,250,300], "tickSize": -9, "labels": false, "domain": false, "title": null}},
  "y": {"field": "a", "type": "quantitative", "axis": {"orient": "left", "values": [-15,-10,-5,0,5,10], "tickSize": -9, "labels": false, "domain": false, "title": null}}}},
{"data": {"values": [{"t": 0, "a": 0}]}, "mark": {"type": "point", "opacity": 0},
 "encoding": {
  "x": {"field": "t", "type": "quantitative", "axis": {"orient": "bottom", "values": [10,20,30,40,60,70,80,90,110,120,130,140,160,170,180,190,210,220,230,240,260,270,280,290,310,320,330], "tickSize": -5, "labels": false, "domain": false, "title": null}},
  "y": {"field": "a", "type": "quantitative", "axis": {"orient": "left", "values": [-12.5,-7.5,-2.5,2.5,7.5,12.5], "tickSize": -5, "labels": false, "domain": false, "title": null}}}},
{"data": {"values": [{"t": 0, "a": 0}]}, "mark": {"type": "point", "opacity": 0},
 "encoding": {
  "x": {"field": "t", "type": "quantitative", "axis": {"orient": "top", "values": [0,50,100,150,200,250,300], "tickSize": -9, "labels": false, "title": null}},
  "y": {"field": "a", "type": "quantitative", "axis": {"orient": "right", "values": [-15,-10,-5,0,5,10], "tickSize": -9, "labels": false, "title": null}}}},
{"data": {"values": [{"t": 0, "a": 0}]}, "mark": {"type": "point", "opacity": 0},
 "encoding": {
  "x": {"field": "t", "type": "quantitative", "axis": {"orient": "top", "values": [10,20,30,40,60,70,80,90,110,120,130,140,160,170,180,190,210,220,230,240,260,270,280,290,310,320,330], "tickSize": -5, "labels": false, "domain": false, "title": null}},
  "y": {"field": "a", "type": "quantitative", "axis": {"orient": "right", "values": [-12.5,-7.5,-2.5,2.5,7.5,12.5], "tickSize": -5, "labels": false, "domain": false, "title": null}}}},
{"data": {"values": [{"t": 265.6, "a": 9.72, "label": "SPCH\u00a0\u00a0\u00a0\u00a0Z|APR 17 (108), 2024|21:20:00.660"}]},
 "mark": {"type": "text", "align": "left", "baseline": "top", "lineBreak": "|", "lineHeight": 14.5, "fontSize": 12.5, "font": "Roboto", "fontWeight": 300, "color": "#333333"},
 "encoding": {"x": {"field": "t", "type": "quantitative", "axis": null}, "y": {"field": "a", "type": "quantitative", "axis": null}, "text": {"field": "label"}}}
],
"resolve": {"axis": {"x": "independent", "y": "independent"}}
},
{
"width": 576, "height": 135,
"data": {"name": "N"},
"layer": [
{"mark": {"type": "line", "color": "#ff0000", "strokeWidth": 1.1},
 "encoding": {
  "x": {"field": "t", "type": "quantitative", "scale": {"domain": [0, 334], "nice": false, "zero": false}, "axis": {"orient": "bottom", "values": [0,50,100,150,200,250,300], "ticks": false, "labels": false, "title": null}},
  "y": {"field": "a", "type": "quantitative", "scale": {"domain": [-12.1, 16.8], "nice": false, "zero": false}, "axis": {"orient": "left", "values": [-10,-5,0,5,10,15], "ticks": false, "labelPadding": 2, "title": "Amplitud [cm/s/s]", "titlePadding": 1}}}},
{"data": {"values": [{"t": 0, "a": 0}]}, "mark": {"type": "point", "opacity": 0},
 "encoding": {
  "x": {"field": "t", "type": "quantitative", "axis": {"orient": "bottom", "values": [0,50,100,150,200,250,300], "tickSize": -9, "labels": false, "domain": false, "title": null}},
  "y": {"field": "a", "type": "quantitative", "axis": {"orient": "left", "values": [-10,-5,0,5,10,15], "tickSize": -9, "labels": false, "domain": false, "title": null}}}},
{"data": {"values": [{"t": 0, "a": 0}]}, "mark": {"type": "point", "opacity": 0},
 "encoding": {
  "x": {"field": "t", "type": "quantitative", "axis": {"orient": "bottom", "values": [10,20,30,40,60,70,80,90,110,120,130,140,160,170,180,190,210,220,230,240,260,270,280,290,310,320,330], "tickSize": -5, "labels": false, "domain": false, "title": null}},
  "y": {"field": "a", "type": "quantitative", "axis": {"orient": "left", "values": [-7.5,-2.5,2.5,7.5,12.5], "tickSize": -5, "labels": false, "domain": false, "title": null}}}},
{"data": {"values": [{"t": 0, "a": 0}]}, "mark": {"type": "point", "opacity": 0},
 "encoding": {
  "x": {"field": "t", "type": "quantitative", "axis": {"orient": "top", "values": [0,50,100,150,200,250,300], "tickSize": -9, "labels": false, "title": null}},
  "y": {"field": "a", "type": "quantitative", "axis": {"orient": "right", "values": [-10,-5,0,5,10,15], "tickSize": -9, "labels": false, "title": null}}}},
{"data": {"values": [{"t": 0, "a": 0}]}, "mark": {"type": "point", "opacity": 0},
 "encoding": {
  "x": {"field": "t", "type": "quantitative", "axis": {"orient": "top", "values": [10,20,30,40,60,70,80,90,110,120,130,140,160,170,180,190,210,220,230,240,260,270,280,290,310,320,330], "tickSize": -5, "labels": false, "domain": false, "title": null}},
  "y": {"field": "a", "type": "quantitative", "axis": {"orient": "right", "values": [-7.5,-2.5,2.5,7.5,12.5], "tickSize": -5, "labels": false, "domain": false, "title": null}}}},
{"data": {"values": [{"t": 265.6, "a": 13.59, "label": "SPCH\u00a0\u00a0\u00a0\u00a0N|APR 17 (108), 2024|21:20:00.735"}]},
 "mark": {"type": "text", "align": "left", "baseline": "top", "lineBreak": "|", "lineHeight": 14.5, "fontSize": 12.5, "font": "Roboto", "fontWeight": 300, "color": "#333333"},
 "encoding": {"x": {"field": "t", "type": "quantitative", "axis": null}, "y": {"field": "a", "type": "quantitative", "axis": null}, "text": {"field": "label"}}}
],
"resolve": {"axis": {"x": "independent", "y": "independent"}}
},
{
"width": 576, "height": 135,
"data": {"name": "E"},
"layer": [
{"mark": {"type": "line", "color": "#ff0000", "strokeWidth": 1.1},
 "encoding": {
  "x": {"field": "t", "type": "quantitative", "scale": {"domain": [0, 334], "nice": false, "zero": false}, "axis": {"orient": "bottom", "values": [0,50,100,150,200,250,300], "ticks": false, "labels": true, "labelPadding": 4, "title": "Tiempo [s]", "titlePadding": 3}},
  "y": {"field": "a", "type": "quantitative", "scale": {"domain": [-11.75, 11.25], "nice": false, "zero": false}, "axis": {"orient": "left", "values": [-10,-5,0,5,10], "ticks": false, "labelPadding": 2, "title": null}}}},
{"data": {"values": [{"t": 0, "a": 0}]}, "mark": {"type": "point", "opacity": 0},
 "encoding": {
  "x": {"field": "t", "type": "quantitative", "axis": {"orient": "bottom", "values": [0,50,100,150,200,250,300], "tickSize": -9, "labels": false, "domain": false, "title": null}},
  "y": {"field": "a", "type": "quantitative", "axis": {"orient": "left", "values": [-10,-5,0,5,10], "tickSize": -9, "labels": false, "domain": false, "title": null}}}},
{"data": {"values": [{"t": 0, "a": 0}]}, "mark": {"type": "point", "opacity": 0},
 "encoding": {
  "x": {"field": "t", "type": "quantitative", "axis": {"orient": "bottom", "values": [10,20,30,40,60,70,80,90,110,120,130,140,160,170,180,190,210,220,230,240,260,270,280,290,310,320,330], "tickSize": -5, "labels": false, "domain": false, "title": null}},
  "y": {"field": "a", "type": "quantitative", "axis": {"orient": "left", "values": [-7.5,-2.5,2.5,7.5], "tickSize": -5, "labels": false, "domain": false, "title": null}}}},
{"data": {"values": [{"t": 0, "a": 0}]}, "mark": {"type": "point", "opacity": 0},
 "encoding": {
  "x": {"field": "t", "type": "quantitative", "axis": {"orient": "top", "values": [0,50,100,150,200,250,300], "tickSize": -9, "labels": false, "title": null}},
  "y": {"field": "a", "type": "quantitative", "axis": {"orient": "right", "values": [-10,-5,0,5,10], "tickSize": -9, "labels": false, "title": null}}}},
{"data": {"values": [{"t": 0, "a": 0}]}, "mark": {"type": "point", "opacity": 0},
 "encoding": {
  "x": {"field": "t", "type": "quantitative", "axis": {"orient": "top", "values": [10,20,30,40,60,70,80,90,110,120,130,140,160,170,180,190,210,220,230,240,260,270,280,290,310,320,330], "tickSize": -5, "labels": false, "domain": false, "title": null}},
  "y": {"field": "a", "type": "quantitative", "axis": {"orient": "right", "values": [-7.5,-2.5,2.5,7.5], "tickSize": -5, "labels": false, "domain": false, "title": null}}}},
{"data": {"values": [{"t": 265.6, "a": 8.69, "label": "SPCH\u00a0\u00a0\u00a0\u00a0E|APR 17 (108), 2024|21:20:00.085"}]},
 "mark": {"type": "text", "align": "left", "baseline": "top", "lineBreak": "|", "lineHeight": 14.5, "fontSize": 12.5, "font": "Roboto", "fontWeight": 300, "color": "#333333"},
 "encoding": {"x": {"field": "t", "type": "quantitative", "axis": null}, "y": {"field": "a", "type": "quantitative", "axis": null}, "text": {"field": "label"}}}
],
"resolve": {"axis": {"x": "independent", "y": "independent"}}
}
],
"config": {
 "font": "Roboto",
 "view": {"stroke": null},
 "axis": {"grid": false, "labelFont": "Roboto", "labelFontSize": 11, "labelFontWeight": "normal", "labelColor": "#555555", "titleFont": "Roboto", "titleFontSize": 12.5, "titleFontWeight": 300, "titleColor": "#444444", "domainColor": "#b4b4b4", "domainWidth": 2, "tickColor": "#777777", "tickWidth": 1.2, "labelFlush": false, "labelOverlap": false}
}
}
